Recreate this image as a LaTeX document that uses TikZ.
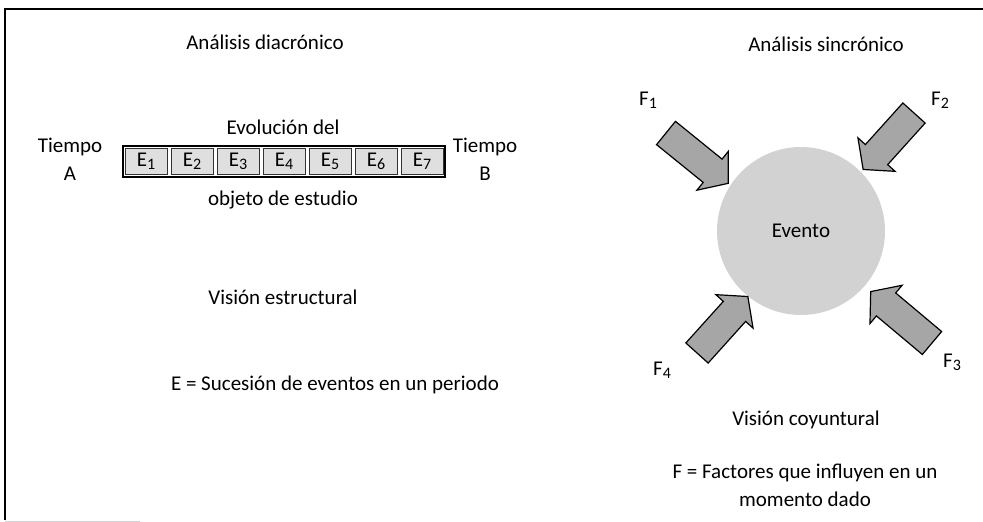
\documentclass[tikz,border=0pt]{standalone}
\usepackage{fontspec}
\setmainfont{Carlito}
\usetikzlibrary{positioning}

% lowered index, a little smaller than the letter
\newcommand{\lowidx}[1]{\raisebox{-3pt}{\fontsize{16}{16}\selectfont #1}}

\begin{document}
\begin{tikzpicture}[x=1pt,y=1pt,
    txt/.style={font=\fontsize{21}{28}\selectfont, inner sep=0pt, align=center},
    ebox/.style={draw=black!80, line width=0.8pt, fill=gray!25, minimum width=42pt, minimum height=26pt, inner sep=0pt, font=\fontsize{21}{23}\selectfont},
    farrow/.style={draw=black, line width=1.2pt, fill=gray!70, line join=miter}]

    \useasboundingbox (0,0) rectangle (983,-522);

    % Draw the frame
    \draw[line width=1.5pt] (983,-9) -- (5,-9) -- (5,-520);
    \draw[gray!35, line width=1pt] (5,-521) -- (140,-521);

    % Left half: diachronic analysis
    \node[txt] (diac) at (265,-42) {Análisis diacrónico};
    \node[txt] (evol) at (283,-127) {Evolución del};
    \node[txt] (tiempoA) at (70,-159) {Tiempo\\A};
    \node[txt] (tiempoB) at (485,-159) {Tiempo\\B};
    \node[txt] (objeto) at (283,-200) {objeto de estudio};
    \node[txt] (estruct) at (283,-297) {Visión estructural};
    \node[txt] (leyendaE) at (335,-385) {E = Sucesión de eventos en un periodo};

    % The strip of events E1 ... E7
    \draw[line width=1.6pt] (123,-146) rectangle (445,-177);
    \foreach \i in {1,...,7} {
        \node[ebox] (e\i) at ({146+46*(\i-1)},-161.5) {E\lowidx{\i}};
    }

    % Right half: synchronic analysis
    \node[txt] (sinc) at (826,-44) {Análisis sincrónico};
    \node[circle, fill=gray!35, minimum size=168pt, txt] (evento) at (801,-231) {Evento};

    % Four factors pushing on the event
    \foreach \x/\y/\a/\l in {666/-133/-39/80, 914/-113/-132/76, 932/-343/140/80, 697/-353/48/76} {
        \draw[farrow, shift={(\x,\y)}, rotate=\a]
            (0,-15) -- (\l-20,-15) -- (\l-20,-25) -- (\l,0) -- (\l-20,25) -- (\l-20,15) -- (0,15) -- cycle;
    }
    \node[txt] (f1) at (648,-100) {F\lowidx{1}};
    \node[txt] (f2) at (940,-100) {F\lowidx{2}};
    \node[txt] (f3) at (952,-362) {F\lowidx{3}};
    \node[txt] (f4) at (662,-370) {F\lowidx{4}};

    \node[txt] (coyunt) at (806,-420) {Visión coyuntural};
    \node[txt] (leyendaF) at (805,-485) {F = Factores que influyen en un\\momento dado};

\end{tikzpicture}
\end{document}
